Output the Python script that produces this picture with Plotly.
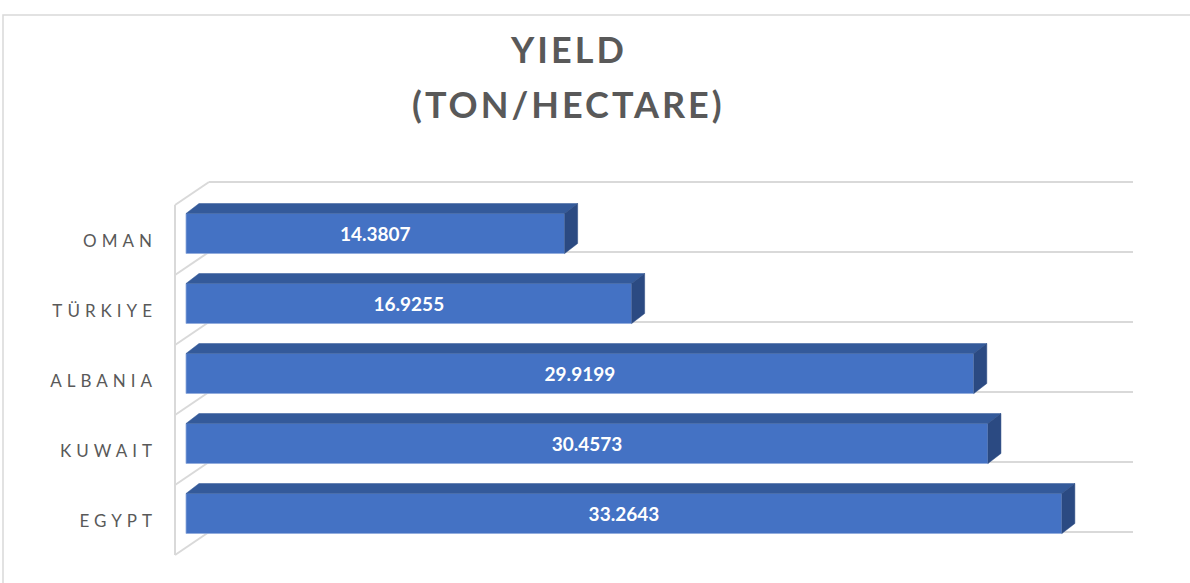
import plotly.graph_objects as go

# ---- data (bottom to top) ----
countries = ["EGYPT", "KUWAIT", "ALBANIA", "TÜRKIYE", "OMAN"]
yields = [33.2643, 30.4573, 29.9199, 16.9255, 14.3807]
value_labels = ["33.2643", "30.4573", "29.9199", "16.9255", "14.3807"]
title_lines = ["YIELD", "(TON/HECTARE)"]

# ---- layout geometry ----
W, H = 1190, 583
L, R, T, B = 170, 50, 175, 23
px_per_unit_x = 26.33
zero_px = 186.0
px_per_cat = 70.0
c0_px = 513.5
x_range = [(L - zero_px) / px_per_unit_x, (W - R - zero_px) / px_per_unit_x]
y_range = [(c0_px - (H - B)) / px_per_cat, (c0_px - T) / px_per_cat]

bar_w = 40 / px_per_cat
dx = 13 / px_per_unit_x       # 3D depth offset, x
dy = 10 / px_per_cat          # 3D depth offset, y

FRONT = "#4472C4"
TOP = "#345A9A"
SIDE = "#2B4A82"
GRID = "#D9D9D9"
TEXT = "#595959"

idx = list(range(len(countries)))

fig = go.Figure()

# front faces
fig.add_trace(go.Bar(
    x=yields, y=idx, orientation="h", width=bar_w,
    marker=dict(color=FRONT, line=dict(color="#8FAADC", width=0.8)),
    text=value_labels, textposition="inside", insidetextanchor="middle",
    textangle=0, constraintext="none",
    textfont=dict(family="Lato", size=19, color="white", weight="bold"),
    hoverinfo="skip", showlegend=False,
))

# top faces & side faces (derived from values)
tx, ty, sx, sy = [], [], [], []
for i, v in zip(idx, yields):
    yt = i + bar_w / 2
    yb = i - bar_w / 2
    tx += [0, dx, v + dx, v, 0, None]
    ty += [yt, yt + dy, yt + dy, yt, yt, None]
    sx += [v, v + dx, v + dx, v, v, None]
    sy += [yb, yb + dy, yt + dy, yt, yb, None]

fig.add_trace(go.Scatter(x=tx, y=ty, mode="lines", fill="toself",
                         fillcolor=TOP, line=dict(color=TOP, width=0.5),
                         hoverinfo="skip", showlegend=False))
fig.add_trace(go.Scatter(x=sx, y=sy, mode="lines", fill="toself",
                         fillcolor=SIDE, line=dict(color=SIDE, width=0.5),
                         hoverinfo="skip", showlegend=False))

# walls / gridlines (decorative)
back_x0 = (209 - zero_px) / px_per_unit_x
back_x1 = (1133 - zero_px) / px_per_unit_x
front_x = (175 - zero_px) / px_per_unit_x
back_off = (c0_px - 532) / px_per_cat
front_off = (c0_px - 555) / px_per_cat
shapes = []
for k in range(len(countries) + 1):
    yb = back_off + k
    yf = front_off + k
    shapes.append(dict(type="line", xref="x", yref="y", x0=front_x, y0=yf,
                       x1=back_x0, y1=yb, line=dict(color=GRID, width=2),
                       layer="below"))
    shapes.append(dict(type="line", xref="x", yref="y", x0=back_x0, y0=yb,
                       x1=back_x1, y1=yb, line=dict(color=GRID, width=2),
                       layer="below"))
shapes.append(dict(type="line", xref="x", yref="y", x0=front_x, y0=front_off,
                   x1=front_x, y1=front_off + len(countries),
                   line=dict(color=GRID, width=2), layer="below"))

# chart frame
pw, ph = W - L - R, H - T - B
shapes.append(dict(type="rect", xref="paper", yref="paper",
                   x0=(3 - L) / pw, x1=(W + 10 - L) / pw,
                   y0=(H - B - (H + 10)) / ph, y1=(H - B - 15) / ph,
                   line=dict(color=GRID, width=1.5), fillcolor="rgba(0,0,0,0)",
                   layer="below"))

annotations = []
for line_txt, cy in zip(title_lines, [48.5, 104]):
    annotations.append(dict(
        text=f'<span style="letter-spacing:3px">{line_txt}</span>',
        xref="paper", yref="paper",
        x=(568 - L) / pw, y=(H - B - cy) / ph,
        xanchor="center", yanchor="middle", showarrow=False,
        font=dict(family="Lato", size=36, color=TEXT, weight="bold"),
    ))

ticktext = [f'<span style="letter-spacing:5px">{c}</span>' for c in countries]

fig.update_layout(
    width=W, height=H,
    margin=dict(l=L, r=R, t=T, b=B, autoexpand=False),
    paper_bgcolor="white", plot_bgcolor="white",
    barmode="overlay",
    xaxis=dict(range=x_range, visible=False, fixedrange=True),
    yaxis=dict(range=y_range, tickmode="array", fixedrange=True,
               tickvals=[i - 0.114 for i in idx], ticktext=ticktext,
               showgrid=False, zeroline=False, showline=False, ticks="",
               ticklabelstandoff=12,
               tickfont=dict(family="Lato", size=17, color=TEXT)),
    shapes=shapes, annotations=annotations,
    showlegend=False,
)

fig.write_html("out.html",
               config={"displayModeBar": False},
               post_script="document.body.style.margin='0';"
                           "document.body.style.overflow='hidden';")
